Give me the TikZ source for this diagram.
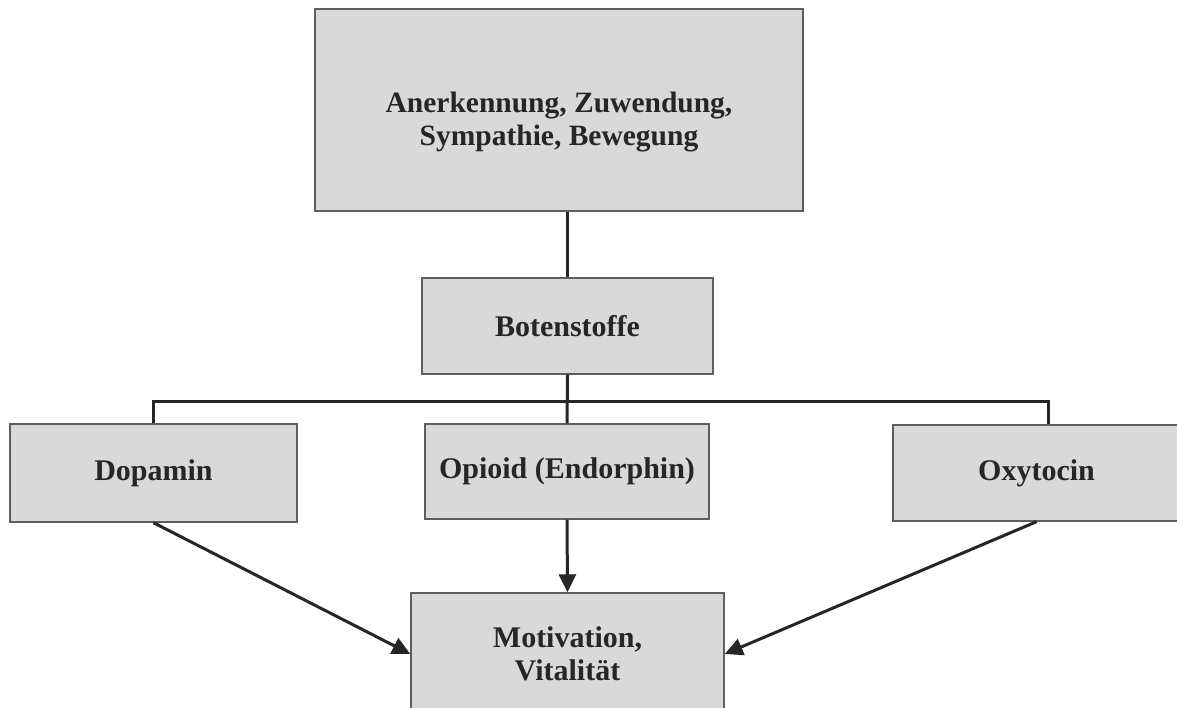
\documentclass[tikz,border=0pt]{standalone}
\usepackage{fontspec}
\setmainfont{Liberation Serif}
\usetikzlibrary{arrows.meta}
\definecolor{boxfill}{HTML}{D9D9D9}
\definecolor{boxedge}{HTML}{5E5E5E}
\definecolor{ink}{HTML}{262626}
\tikzset{
  box/.style={draw=boxedge, fill=boxfill, line width=1.4pt, inner sep=0pt,
    align=center, text=ink, font=\bfseries\fontsize{30}{33}\selectfont},
  link/.style={draw=ink, line width=3pt},
  arrowlink/.style={link, -{Triangle[length=18pt,width=17pt]}}
}
\begin{document}
\begin{tikzpicture}[x=1pt,y=-1pt]
  \useasboundingbox (0,0) rectangle (1177,708);
  \clip (0,0) rectangle (1177,708);

  % boxes
  \node[box, minimum width=488pt, minimum height=202pt,
        font=\bfseries\fontsize{29.5}{33}\selectfont] (top) at (559,110)
    {\rule{0pt}{44pt}Anerkennung, Zuwendung,\\Sympathie, Bewegung};
  \node[box, minimum width=291pt, minimum height=96pt] (bot) at (567.5,326) {Botenstoffe};
  \node[box, minimum width=287pt, minimum height=98pt] (dop) at (153.5,473) {Dopamin};
  \node[box, minimum width=284pt, minimum height=95pt] (opi) at (567,471.5) {Opioid (Endorphin)};
  \node[box, minimum width=287pt, minimum height=96pt] (oxy) at (1036.5,473) {Oxytocin};
  \node[box, minimum width=313pt, minimum height=122pt] (mot) at (567.5,654) {Motivation,\\Vitalität};

  % tree connectors
  \coordinate (busL) at (153.5,401);
  \coordinate (busR) at (1048,401);
  \draw[link] (bot.north) -- (bot.north |- top.south);
  \draw[link] (bot.south) -- (opi.north);
  \draw[link] (dop.north) -- (busL) -- (busR) -- (busR |- oxy.north);

  % arrows into the result box
  \draw[arrowlink] (dop.south) -- (mot.west);
  \draw[arrowlink] (opi.south) -- (mot.north);
  \draw[arrowlink] (oxy.south) -- (mot.east);
\end{tikzpicture}
\end{document}
